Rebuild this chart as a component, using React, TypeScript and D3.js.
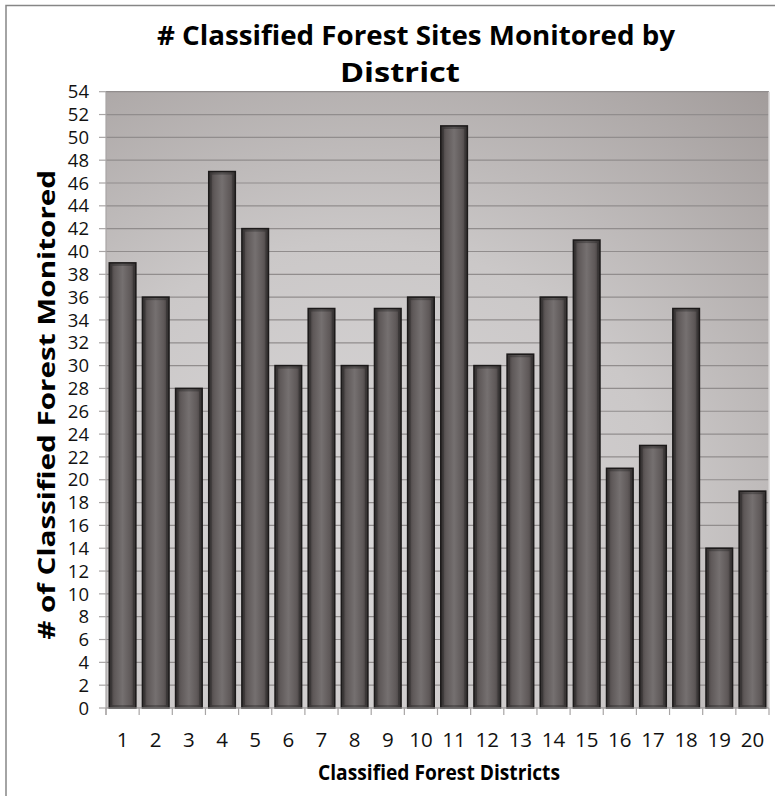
import React from "react";
import * as d3 from "d3";

const districts = ["1","2","3","4","5","6","7","8","9","10","11","12","13","14","15","16","17","18","19","20"];
const sites = [39,36,28,47,42,30,35,30,35,36,51,30,31,36,41,21,23,35,14,19];
const yTicks = d3.range(0, 56, 2);
const title1 = "# Classified Forest Sites Monitored by";
const title2 = "District";
const xTitle = "Classified Forest Districts";
const yTitle = "# of Classified Forest Monitored";

const W = 775, H = 796;
const L = 106, R = 769, T = 91.7, B = 708;
const FONT = "'Open Sans', 'Noto Sans', sans-serif";

export default function App() {
  const x = d3.scaleBand<string>().domain(districts).range([L, R]).paddingInner(0.2).paddingOuter(0.1);
  const y = d3.scaleLinear().domain([0, 54]).range([B, T]);
  const step = x.step();
  const bounds = d3.range(0, districts.length + 1).map((i) => L + i * step);
  return (
    <svg width={W} height={H} style={{ position: "absolute", left: 0, top: 0, background: "#fff" }}>
      <defs>
        <radialGradient id="bg" cx="0.38" cy="0.72" r="0.95">
          <stop offset="0" stopColor="#d9d7d8" />
          <stop offset="0.5" stopColor="#cbc8c8" />
          <stop offset="1" stopColor="#a29c9b" />
        </radialGradient>
        <linearGradient id="bar" x1="0" x2="1" y1="0" y2="0">
          <stop offset="0" stopColor="#3f3a3a" />
          <stop offset="0.2" stopColor="#5f5959" />
          <stop offset="0.5" stopColor="#757070" />
          <stop offset="0.8" stopColor="#5f5959" />
          <stop offset="1" stopColor="#3f3a3a" />
        </linearGradient>
      </defs>
      <rect x={6} y={5.5} width={W + 10} height={H + 10} fill="#fff" stroke="#868686" strokeWidth={1.5} />
      <rect x={L} y={T} width={R - L} height={B - T} fill="url(#bg)" />
      {yTicks.map((t) => (
        <line key={"g" + t} x1={L} x2={R} y1={y(t)} y2={y(t)} stroke="#918d8d" strokeWidth={1.2} />
      ))}
      <line x1={R} x2={R} y1={T} y2={B} stroke="#d4d2d2" strokeWidth={1.5} />
      {sites.map((v, i) => {
        const bx = x(districts[i])!;
        const bw = x.bandwidth();
        return (
          <g key={"b" + i}>
            <rect x={bx} y={y(v)} width={bw} height={B - y(v)} fill="url(#bar)" stroke="#1c1a1a" strokeWidth={1.6} />
            <rect x={bx + 2} y={y(v) + 2} width={bw - 4} height={Math.max(0, B - y(v) - 4)} fill="none" stroke="rgba(30,28,28,0.35)" strokeWidth={2} />
          </g>
        );
      })}
      <line x1={L} x2={L} y1={T} y2={B + 7} stroke="#a8a5a5" strokeWidth={1.2} />
      <line x1={L} x2={R} y1={B} y2={B} stroke="#a8a5a5" strokeWidth={1.2} />
      {yTicks.map((t) => (
        <g key={"yt" + t}>
          <line x1={L - 7} x2={L} y1={y(t)} y2={y(t)} stroke="#a8a5a5" strokeWidth={1.2} />
          <text x={89} y={y(t)} dy="0.36em" textAnchor="end" fontFamily={FONT} fontSize={18.5} fill="#111">{t}</text>
        </g>
      ))}
      {bounds.map((bx, i) => (
        <line key={"xt" + i} x1={bx} x2={bx} y1={B} y2={B + 7} stroke="#a8a5a5" strokeWidth={1.2} />
      ))}
      {districts.map((d) => (
        <text key={"xl" + d} x={x(d)! + x.bandwidth() / 2} y={747} textAnchor="middle" fontFamily={FONT} fontSize={20.5} fill="#111">{d}</text>
      ))}
      <text x={416} y={45} textAnchor="middle" fontFamily={FONT} fontWeight="bold" fontSize={26} fill="#000" textLength={518} lengthAdjust="spacingAndGlyphs">{title1}</text>
      <text x={400} y={82} textAnchor="middle" fontFamily={FONT} fontWeight="bold" fontSize={26} fill="#000" textLength={120} lengthAdjust="spacingAndGlyphs">{title2}</text>
      <text x={439} y={780} textAnchor="middle" fontFamily={FONT} fontWeight="bold" fontSize={20.5} fill="#000" textLength={242} lengthAdjust="spacingAndGlyphs">{xTitle}</text>
      <text transform={`translate(55,${(T + B) / 2 + 5}) rotate(-90)`} textAnchor="middle" fontFamily={FONT} fontWeight="bold" fontSize={23} fill="#000" textLength={470} lengthAdjust="spacingAndGlyphs">{yTitle}</text>
    </svg>
  );
}
